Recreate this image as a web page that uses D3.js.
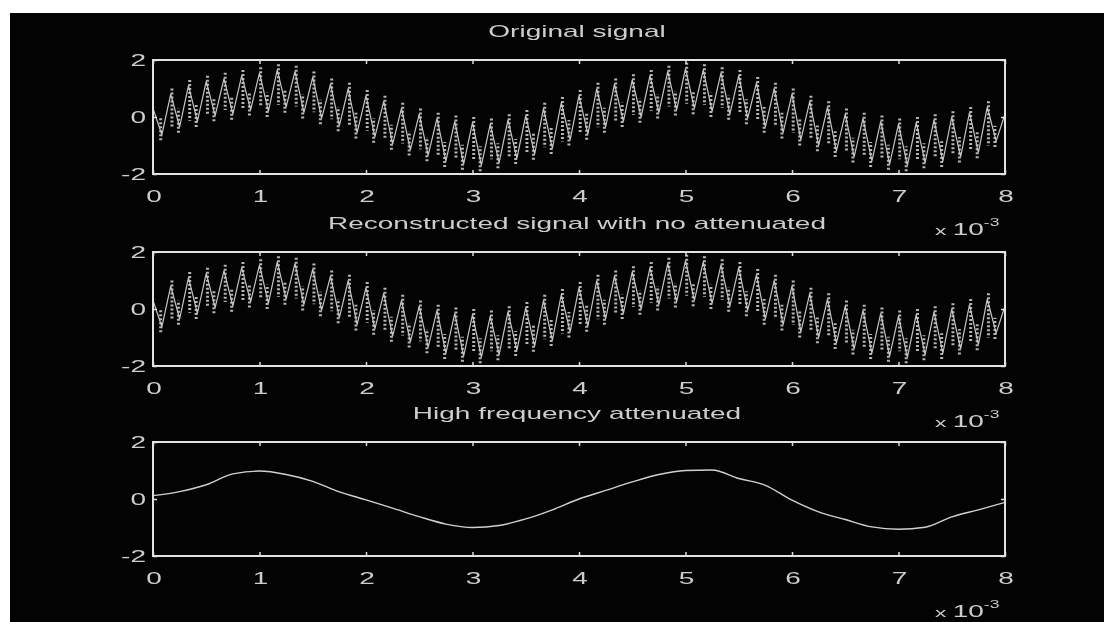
<!DOCTYPE html>
<html>
<head>
<meta charset="utf-8">
<script src="https://cdn.jsdelivr.net/npm/d3@7/dist/d3.min.js"></script>
<style>
  html, body { margin: 0; padding: 0; background: #fff; }
  svg { display: block; }
  text { font-family: "Liberation Sans", Arial, sans-serif; fill: #cdcdcd; }
</style>
</head>
<body>
<svg id="chart" width="1104" height="622"></svg>
<script>
// Time axis ticks (units of 1e-3 s) and amplitude ticks
const xTicks = [0, 1, 2, 3, 4, 5, 6, 7, 8];
const yTicks = [-2, 0, 2];

// Panel titles
const titles = [
  "Original signal",
  "Reconstructed signal with no attenuated",
  "High frequency attenuated"
];

// Original signal: successive turning points of the fast oscillation, 0 .. 8e-3 s
const originalSignal = [
  0.30, -0.62, 0.80, -0.35, 1.10, -0.15, 1.25, 0.05, 1.35, 0.10,
  1.45, 0.25, 1.55, 0.20, 1.65, 0.35, 1.60, 0.15, 1.40, -0.05,
  1.15, -0.30, 1.00, -0.55, 0.75, -0.70, 0.55, -0.95, 0.30, -1.15,
  0.10, -1.35, -0.05, -1.55, -0.15, -1.65, -0.20, -1.70, -0.25, -1.60,
  -0.10, -1.45, 0.05, -1.30, 0.30, -1.10, 0.50, -0.80, 0.75, -0.60,
  1.00, -0.35, 1.15, -0.15, 1.30, 0.00, 1.45, 0.15, 1.60, 0.25,
  1.70, 0.30, 1.65, 0.20, 1.55, 0.10, 1.45, -0.05, 1.20, -0.35,
  1.00, -0.55, 0.80, -0.80, 0.55, -1.00, 0.35, -1.20, 0.10, -1.40,
  -0.05, -1.55, -0.15, -1.65, -0.25, -1.70, -0.20, -1.60, -0.10, -1.55,
  0.00, -1.40, 0.15, -1.25, 0.35, -0.85, 0.10
];

// Reconstruction with every band kept: same samples as the original
const reconstructedSignal = originalSignal.slice();

// Low-pass output, sampled every 0.25e-3 s
const lowBand = [
  0.12, 0.26, 0.50, 0.88, 0.98, 0.86, 0.62, 0.25, -0.03,
  -0.32, -0.62, -0.88, -1.00, -0.93, -0.70, -0.38, 0.00,
  0.30, 0.60, 0.86, 1.00, 1.02, 0.72, 0.48, -0.04,
  -0.45, -0.72, -0.98, -1.06, -0.99, -0.63, -0.38, -0.12
];

const svg = d3.select("#chart");
const W = 1104, H = 622;

// page frame: black figure area inside a thin white margin
svg.append("rect").attr("width", W).attr("height", H).attr("fill", "#fff");
svg.append("rect").attr("x", 10).attr("y", 13).attr("width", W - 10).attr("height", H - 13).attr("fill", "#030303");

const defs = svg.append("defs");
defs.append("filter").attr("id", "soft")
  .attr("x", "-5%").attr("y", "-5%").attr("width", "110%").attr("height", "110%")
  .append("feGaussianBlur").attr("stdDeviation", 0.6);
defs.append("filter").attr("id", "softText")
  .append("feGaussianBlur").attr("stdDeviation", 0.35);

const left = 153, right = 1005, axH = 114;
const tops = [60, 252, 442];
const SX = 1.75; // horizontal stretch of the lettering

const x = d3.scaleLinear().domain([0, 8]).range([left, right]);

function panel(i, series, kind) {
  const top = tops[i];
  const y = d3.scaleLinear().domain([-2, 2]).range([top + axH, top]);
  const g = svg.append("g");

  // data
  const dg = g.append("g").attr("filter", "url(#soft)");
  const step = 8 / (series.length - 1);
  const pts = series.map((v, k) => [k * step, v]);
  const clampY = v => y(Math.max(-1.95, Math.min(1.95, v)));
  if (kind === "fast") {
    // dotted columns of the finest component around each turning point
    pts.forEach((p, k) => {
      if (k === 0 || k === pts.length - 1) return;
      const prev = pts[k - 1][1], next = pts[k + 1][1];
      const v = p[1];
      const isPeak = v > prev && v > next;
      const other = isPeak ? Math.min(prev, next) : Math.max(prev, next);
      const span = v - other;
      const off = isPeak ? 1.2 : -1.2;
      dg.append("line")
        .attr("x1", x(p[0]) + off).attr("x2", x(p[0]) + off)
        .attr("y1", clampY(v + (isPeak ? 0.2 : -0.2)))
        .attr("y2", clampY(v - span * (isPeak ? 0.85 : 0.45)))
        .attr("stroke", "#b4b4b4").attr("stroke-width", 3)
        .attr("stroke-dasharray", "2,2");
    });
    dg.append("path")
      .attr("d", d3.line().x(d => x(d[0])).y(d => y(d[1]))(pts))
      .attr("fill", "none").attr("stroke", "#c4c4c4").attr("stroke-width", 1.2);
  } else {
    dg.append("path")
      .attr("d", d3.line().x(d => x(d[0])).y(d => y(d[1])).curve(d3.curveMonotoneX)(pts))
      .attr("fill", "none").attr("stroke", "#d0d0d0").attr("stroke-width", 1.4);
  }

  // inner tick marks on all four sides
  const tickColor = "#dcdcdc";
  g.append("g").attr("transform", `translate(0,${top + axH})`)
    .call(d3.axisBottom(x).tickValues(xTicks).tickSize(-4).tickFormat(""));
  g.append("g").attr("transform", `translate(0,${top})`)
    .call(d3.axisTop(x).tickValues(xTicks).tickSize(-4).tickFormat(""));
  g.append("g").attr("transform", `translate(${left},0)`)
    .call(d3.axisLeft(y).tickValues(yTicks).tickSize(-4).tickFormat(""));
  g.append("g").attr("transform", `translate(${right},0)`)
    .call(d3.axisRight(y).tickValues(yTicks).tickSize(-4).tickFormat(""));
  g.selectAll(".domain").remove();
  g.selectAll(".tick line").attr("stroke", tickColor).attr("stroke-width", 1.5);

  // axes box
  g.append("rect")
    .attr("x", left).attr("y", top).attr("width", right - left).attr("height", axH)
    .attr("fill", "none").attr("stroke", "#e2e2e2").attr("stroke-width", 2);

  const tg = g.append("g").attr("filter", "url(#softText)");
  // tick labels
  xTicks.forEach(t => {
    tg.append("text")
      .attr("transform", `translate(${x(t) + 1},${top + axH + 28}) scale(${SX},1)`)
      .attr("text-anchor", "middle").attr("font-size", 16)
      .text(String(t));
  });
  yTicks.forEach(v => {
    tg.append("text")
      .attr("transform", `translate(${left - 7},${y(v) + 6}) scale(${SX},1)`)
      .attr("text-anchor", "end").attr("font-size", 16)
      .text(String(v));
  });

  // exponent note under the x axis
  const ex = tg.append("text")
    .attr("transform", `translate(935,${top + axH + 61}) scale(${SX},1)`)
    .attr("font-size", 16);
  ex.append("tspan").attr("font-size", 13).text("x ");
  ex.append("tspan").text("10");
  ex.append("tspan").attr("font-size", 10).attr("dy", -9).text("-3");

  // title
  tg.append("text")
    .attr("transform", `translate(${(left + right) / 2 - 2},${top - 23}) scale(${SX},1)`)
    .attr("text-anchor", "middle").attr("font-size", 16)
    .text(titles[i]);
}

panel(0, originalSignal, "fast");
panel(1, reconstructedSignal, "fast");
panel(2, lowBand, "slow");
</script>
</body>
</html>
